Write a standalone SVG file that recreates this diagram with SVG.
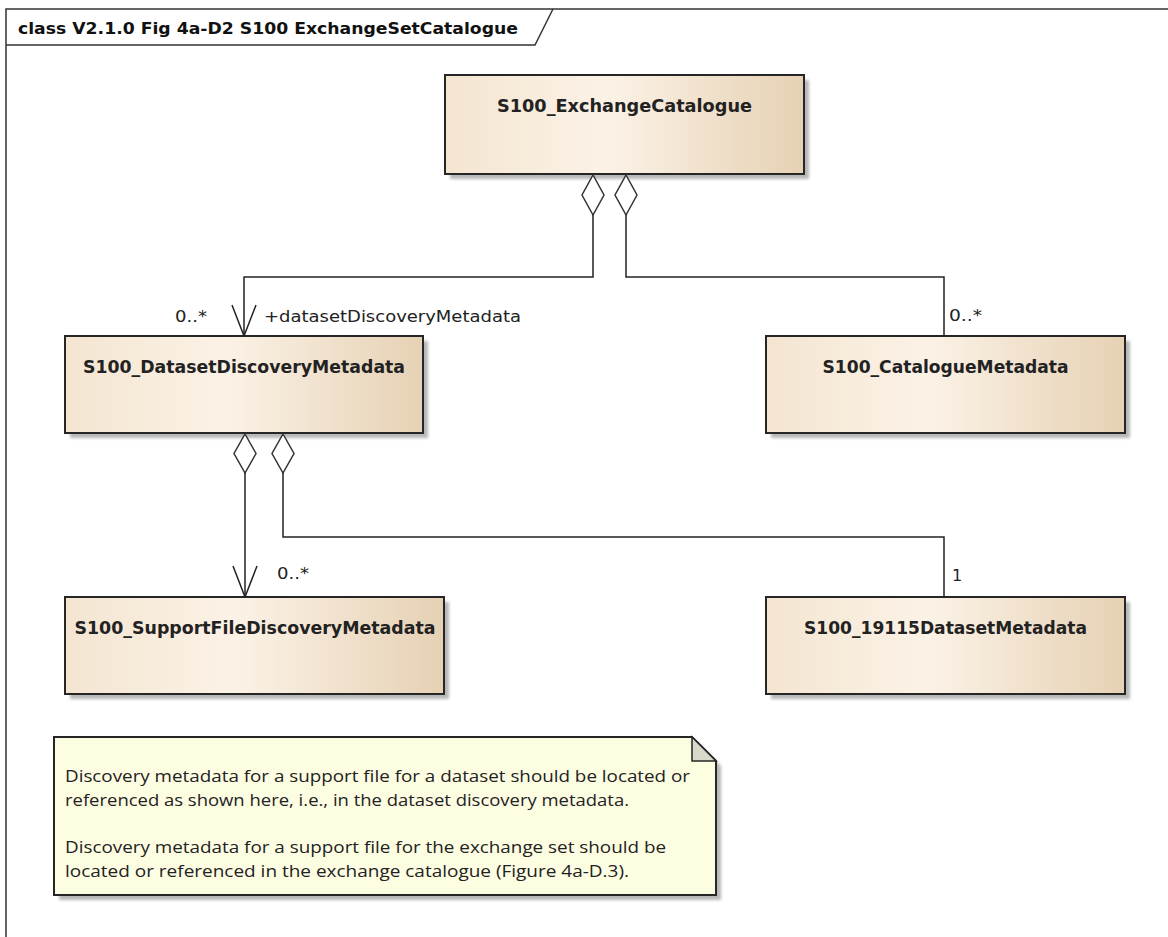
<svg xmlns="http://www.w3.org/2000/svg" width="1168" height="937" viewBox="0 0 1168 937">
<defs>
<linearGradient id="cls" x1="0" y1="0" x2="1" y2="0">
<stop offset="0" stop-color="#f4e5d1"/>
<stop offset="0.45" stop-color="#fbf2e6"/>
<stop offset="1" stop-color="#e6d1b4"/>
</linearGradient>
<filter id="blur" x="-10%" y="-10%" width="120%" height="120%"><feGaussianBlur stdDeviation="1.5"/></filter>
<marker id="open" viewBox="-13 -1 26 33" refX="0" refY="31" markerWidth="26" markerHeight="33" markerUnits="userSpaceOnUse" orient="0">
<path d="M-12,0 L0,31 L12,0" fill="none" stroke="#222" stroke-width="1.5"/>
</marker>
</defs>
<style>
.frame{fill:none;stroke:#333;stroke-width:1.5}
.title{font-family:"DejaVu Sans",sans-serif;font-weight:bold;font-size:16px;fill:#111}
.shadow{fill:#9a9a9a;opacity:0.7;filter:url(#blur)}
.box{fill:url(#cls);stroke:#262626;stroke-width:2}
.name{font-family:"DejaVu Sans",sans-serif;font-weight:bold;font-size:17px;fill:#222;text-anchor:middle}
.edge{fill:none;stroke:#222;stroke-width:1.5}
.dia{fill:#fff;stroke:#333;stroke-width:1.5}
.lbl{font-family:"DejaVu Sans",sans-serif;font-size:16px;fill:#222}
.note{fill:#fdfde2;stroke:#262626;stroke-width:2}
.ear{fill:#d9d9c9;stroke:#262626;stroke-width:1.5}
.ntxt{font-family:"Open Sans","Noto Sans",sans-serif;font-size:16px;fill:#222}
</style>
<rect x="0" y="0" width="1168" height="937" fill="#fff"/>
<g id="frame">
<path class="frame" d="M6,937 L6,9 L1168,9"/>
<path class="frame" d="M6,45 L535,45 L553,9"/>
<text class="title" x="18" y="34" textLength="500" lengthAdjust="spacingAndGlyphs">class V2.1.0 Fig 4a-D2 S100 ExchangeSetCatalogue</text>
</g>
<g id="S100_ExchangeCatalogue">
<rect class="shadow" x="450" y="80" width="359" height="99"/>
<rect class="box" x="445" y="75" width="359" height="99"/>
<text class="name" x="624.5" y="112" textLength="255" lengthAdjust="spacingAndGlyphs">S100_ExchangeCatalogue</text>
</g>
<g id="S100_DatasetDiscoveryMetadata">
<rect class="shadow" x="70" y="341" width="358" height="97"/>
<rect class="box" x="65" y="336" width="358" height="97"/>
<text class="name" x="244" y="373" textLength="322" lengthAdjust="spacingAndGlyphs">S100_DatasetDiscoveryMetadata</text>
</g>
<g id="S100_CatalogueMetadata">
<rect class="shadow" x="771" y="341" width="359" height="97"/>
<rect class="box" x="766" y="336" width="359" height="97"/>
<text class="name" x="945.5" y="373" textLength="246" lengthAdjust="spacingAndGlyphs">S100_CatalogueMetadata</text>
</g>
<g id="S100_SupportFileDiscoveryMetadata">
<rect class="shadow" x="70" y="602" width="379" height="97"/>
<rect class="box" x="65" y="597" width="379" height="97"/>
<text class="name" x="255" y="634" textLength="361" lengthAdjust="spacingAndGlyphs">S100_SupportFileDiscoveryMetadata</text>
</g>
<g id="S100_19115DatasetMetadata">
<rect class="shadow" x="771" y="602" width="359" height="97"/>
<rect class="box" x="766" y="597" width="359" height="97"/>
<text class="name" x="945.5" y="634" textLength="283" lengthAdjust="spacingAndGlyphs">S100_19115DatasetMetadata</text>
</g>
<g id="note">
<path class="shadow" d="M59,742 L697,742 L721,766 L721,900 L59,900 Z"/>
<path class="note" d="M54,737 L692,737 L716,761 L716,895 L54,895 Z"/>
<path class="ear" d="M692,737 L692,761 L716,761 Z"/>
<text class="ntxt" x="65" y="782" textLength="625" lengthAdjust="spacingAndGlyphs">Discovery metadata for a support file for a dataset should be located or</text>
<text class="ntxt" x="65" y="806" textLength="564" lengthAdjust="spacingAndGlyphs">referenced as shown here, i.e., in the dataset discovery metadata.</text>
<text class="ntxt" x="65" y="853" textLength="601" lengthAdjust="spacingAndGlyphs">Discovery metadata for a support file for the exchange set should be</text>
<text class="ntxt" x="65" y="877" textLength="564" lengthAdjust="spacingAndGlyphs">located or referenced in the exchange catalogue (Figure 4a-D.3).</text>
</g>
<g id="connectors">
<path class="edge" d="M593,215 L593,277 L244,277 L244,336" marker-end="url(#open)"/>
<polygon class="dia" points="593,175 604,195 593,215 582,195"/>
<path class="edge" d="M626,215 L626,277 L944,277 L944,336"/>
<polygon class="dia" points="626,175 637,195 626,215 615,195"/>
<path class="edge" d="M245,473 L245,597" marker-end="url(#open)"/>
<polygon class="dia" points="245,434 256,453.5 245,473 234,453.5"/>
<path class="edge" d="M283,473 L283,537 L944,537 L944,597"/>
<polygon class="dia" points="283,434 294,453.5 283,473 272,453.5"/>
<text class="lbl" x="175" y="322" textLength="32" lengthAdjust="spacingAndGlyphs">0..*</text>
<text class="lbl" x="264" y="322" textLength="257" lengthAdjust="spacingAndGlyphs">+datasetDiscoveryMetadata</text>
<text class="lbl" x="949" y="321" textLength="33" lengthAdjust="spacingAndGlyphs">0..*</text>
<text class="lbl" x="277" y="579" textLength="32" lengthAdjust="spacingAndGlyphs">0..*</text>
<text class="lbl" x="952" y="581">1</text>
</g>
</svg>
